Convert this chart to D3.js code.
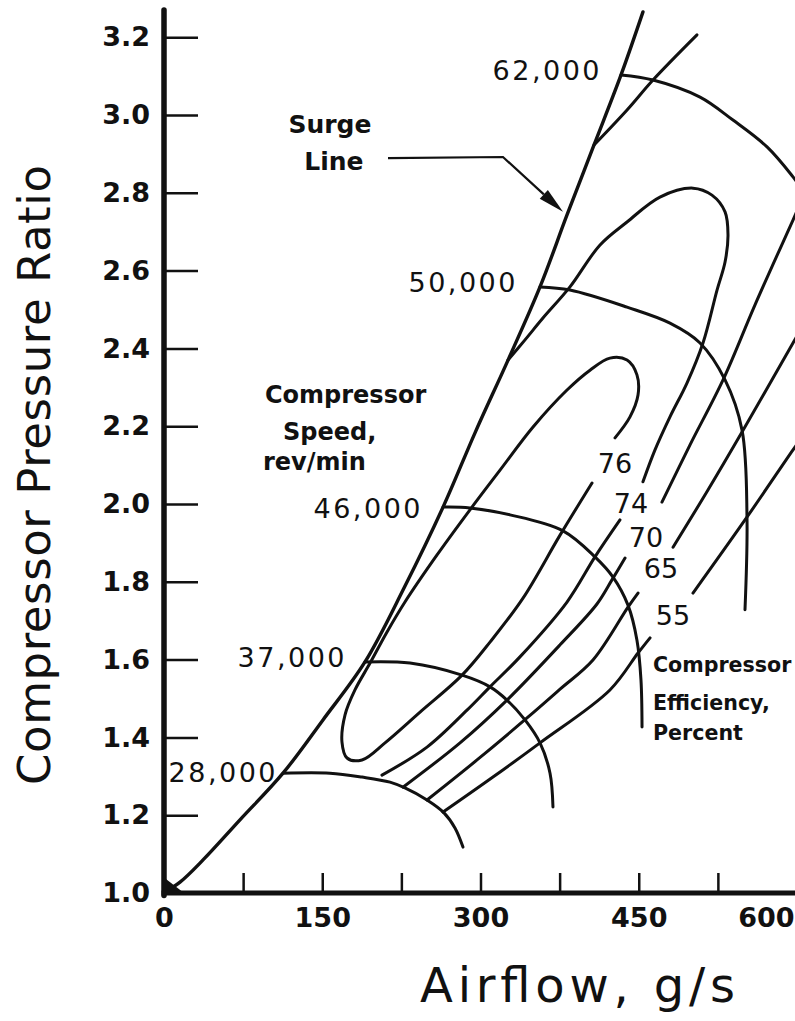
<!DOCTYPE html>
<html>
<head>
<meta charset="utf-8">
<script src="https://cdn.jsdelivr.net/npm/d3@7"></script>
<style>
  body { margin: 0; background: #fff; }
  svg { display: block; }
  text { font-family: "DejaVu Sans", sans-serif; fill: #111; }
</style>
</head>
<body>
<div class="map_chart"></div>
<script>
// Compressor map: pressure ratio vs airflow

const xTicks = [0, 75, 150, 225, 300, 375, 450, 525, 600];
const xLabels = [0, 150, 300, 450, 600];
const yTicks = [1.0, 1.2, 1.4, 1.6, 1.8, 2.0, 2.2, 2.4, 2.6, 2.8, 3.0, 3.2];

// points are [airflow g/s, pressure ratio]
const surgeLine = [[1.9,1.005],[15.2,1.028],[37.0,1.085],[72.0,1.188],[112.8,1.308],[150.7,1.445],
  [190.5,1.594],[227.5,1.784],[264.5,1.992],[294.8,2.183],[326.1,2.370],[356.4,2.558],
  [382.0,2.743],[407.6,2.923],[433.2,3.103],[454.0,3.265]];
const originBlob = [[0,1.0],[19,1.0],[0,1.04]];

const speedNames = ["28,000", "37,000", "46,000", "50,000", "62,000"];
const speed28 = [[112.8,1.308],[157.3,1.308],[187.7,1.298],[214.2,1.285],[228.4,1.270],[249.3,1.239],
  [265.4,1.206],[275.8,1.167],[283.4,1.118]];
const speed37 = [[190.5,1.594],[233.2,1.591],[282.5,1.560],[309.0,1.530],[325.1,1.496],[342.2,1.445],
  [356.4,1.386],[365.9,1.308],[368.7,1.221]];
const speed46 = [[264.5,1.992],[290.0,1.990],[328.0,1.972],[378.2,1.931],[408.5,1.864],[425.6,1.812],
  [439.8,1.740],[448.3,1.650],[452.1,1.548],[453.1,1.427]];
const speed50 = [[356.4,2.558],[384.8,2.550],[438.9,2.506],[479.6,2.465],[508.1,2.414],[531.8,2.319],
  [547.9,2.190],[552.6,1.967],[550.7,1.728]];
const speed62 = [[433.2,3.103],[463.5,3.090],[508.1,3.046],[539.3,2.987],[571.6,2.918],[596.2,2.841],
  [612.3,2.781]];
const speedLines = [speed28, speed37, speed46, speed50, speed62];
// right end / baseline of each speed label
const speedLabelPos = [[108.1,1.285],[173.5,1.581],[245.5,1.964],[335.5,2.545],[415.2,3.090]];

const effNames = ["76", "74", "70", "65", "55"];
const eff76 = [[405.7,2.054],[375.4,1.920],[340.3,1.758],[309.0,1.645],[282.5,1.560],[242.7,1.465],
  [209.5,1.386],[187.7,1.342],[173.5,1.347],[168.7,1.388],[171.6,1.458],[181.0,1.522],[195.3,1.591],
  [211.4,1.671],[228.4,1.748],[258.8,1.869],[290.0,1.985],[318.5,2.087],[349.8,2.198],[382.0,2.293],
  [403.8,2.344],[422.7,2.375],[438.9,2.370],[448.3,2.332],[449.3,2.280],[441.7,2.224],[427.5,2.170]];
const eff74a = [[326.1,2.370],[342.2,2.422],[359.2,2.478],[384.8,2.558],[413.3,2.666],[438.9,2.725],
  [470.1,2.789],[501.4,2.812],[519.4,2.794],[531.8,2.751],[534.6,2.692],[531.8,2.622],[524.2,2.550],
  [510.9,2.414],[495.7,2.311],[479.6,2.224],[465.4,2.139],[454.0,2.057]];
const eff74b = [[432.2,1.959],[408.5,1.864],[382.0,1.748],[337.4,1.607],[309.0,1.530],[287.2,1.470],
  [249.3,1.375],[206.6,1.303]];
const eff70a = [[407.6,2.923],[438.9,3.013],[463.5,3.090],[505.2,3.206]];
const eff70b = [[472.0,2.005],[498.6,2.152],[529.9,2.319],[560.2,2.512],[596.2,2.730],[607.6,2.799]];
const eff70c = [[437.0,1.861],[424.6,1.805],[410.4,1.743],[375.4,1.638],[325.1,1.496],[280.6,1.386],
  [226.5,1.272]];
const eff65a = [[482.5,1.889],[515.6,2.036],[547.9,2.185],[596.2,2.414],[607.6,2.468]];
const eff65b = [[449.3,1.771],[439.8,1.735],[406.6,1.599],[375.4,1.524],[344.1,1.450],[296.7,1.342],
  [249.3,1.239]];
const eff55a = [[501.4,1.771],[550.7,1.959],[596.2,2.139],[607.6,2.183]];
const eff55b = [[460.7,1.656],[449.3,1.617],[422.7,1.522],[356.4,1.386],[311.8,1.298],[264.5,1.208]];
const effLines = [eff76, eff74a, eff74b, eff70a, eff70b, eff70c, eff65a, eff65b, eff55a, eff55b];
// centre / baseline of each efficiency label
const effLabelPos = [[427.5,2.080],[442.7,1.977],[456.9,1.889],[471.1,1.810],[482.5,1.689]];

const surgeNote = ["Surge", "Line"];
const surgeNotePos = [[157.3,2.954],[161.1,2.859]];
const surgeLeader = [[212.3,2.889],[321.3,2.892],[378.2,2.751]];
const speedNote = ["Compressor", "Speed,", "rev/min"];
const speedNotePos = [[95.7,2.260],[112.8,2.165],[93.8,2.087]];
const effNote = ["Compressor", "Efficiency,", "Percent"];
const effNotePos = [[463.5,1.568],[463.5,1.470],[463.5,1.393]];

const ink = "#111";

const svg = d3.select(".map_chart")
              .append("svg")
              .attr("width", 795)
              .attr("height", 1021);

svg.append("rect").attr("width", 795).attr("height", 1021).attr("fill", "#fff");

const xScale = d3.scaleLinear().domain([0, 600]).range([164, 797]);
const yScale = d3.scaleLinear().domain([1.0, 3.2]).range([893, 37.2]);

const line = d3.line()
               .x(d => xScale(d[0]))
               .y(d => yScale(d[1]))
               .curve(d3.curveCatmullRom.alpha(0.5));

// axes
const yAxis = svg.append("g")
                 .attr("transform", "translate(" + xScale(0) + ",0)")
                 .call(d3.axisLeft(yScale)
                         .tickValues(yTicks)
                         .tickSizeInner(-34)
                         .tickSizeOuter(0)
                         .tickPadding(14)
                         .tickFormat(d3.format(".1f")));
yAxis.select(".domain").remove();
yAxis.selectAll(".tick line").attr("stroke", ink).attr("stroke-width", 2.5);
yAxis.selectAll(".tick text")
     .attr("font-family", "DejaVu Sans")
     .attr("font-size", 27)
     .attr("font-weight", "bold")
     .attr("fill", ink);

const xAxis = svg.append("g")
                 .attr("transform", "translate(0," + yScale(1.0) + ")")
                 .call(d3.axisBottom(xScale)
                         .tickValues(xTicks)
                         .tickSizeInner(-20)
                         .tickSizeOuter(0)
                         .tickPadding(15)
                         .tickFormat(d => xLabels.includes(d) ? d : ""));
xAxis.select(".domain").remove();
xAxis.selectAll(".tick line").attr("stroke", ink).attr("stroke-width", 2.5);
xAxis.selectAll(".tick text")
     .attr("font-family", "DejaVu Sans")
     .attr("font-size", 27)
     .attr("font-weight", "bold")
     .attr("fill", ink);
// last label sits on the right edge: keep it inside
xAxis.selectAll(".tick text")
     .filter(d => d === 600)
     .attr("text-anchor", "end")
     .attr("dx", -3);

svg.append("line")
   .attr("x1", xScale(0)).attr("x2", xScale(0))
   .attr("y1", yScale(1.0) + 2.5).attr("y2", yScale(3.27))
   .attr("stroke", ink).attr("stroke-width", 5.5).attr("stroke-linecap", "round");
svg.append("line")
   .attr("x1", xScale(0) - 2.5).attr("x2", xScale(615))
   .attr("y1", yScale(1.0)).attr("y2", yScale(1.0))
   .attr("stroke", ink).attr("stroke-width", 5);

// curves
const curves = svg.append("g")
                  .attr("fill", "none")
                  .attr("stroke", ink)
                  .attr("stroke-linecap", "round")
                  .attr("stroke-linejoin", "round");

curves.append("path").attr("d", line(surgeLine)).attr("stroke-width", 3.4);
svg.append("path")
   .attr("d", d3.line().x(d => xScale(d[0])).y(d => yScale(d[1]))(originBlob) + "Z")
   .attr("fill", ink);

curves.selectAll(".speed")
      .data(speedLines).enter()
      .append("path")
      .attr("class", "speed")
      .attr("d", d => line(d))
      .attr("stroke-width", 3);

curves.selectAll(".eff")
      .data(effLines).enter()
      .append("path")
      .attr("class", "eff")
      .attr("d", d => line(d))
      .attr("stroke-width", 3);

// surge leader and arrow
const leadPx = surgeLeader.map(d => [xScale(d[0]), yScale(d[1])]);
const tip = leadPx[2], back = leadPx[1];
const len = Math.hypot(tip[0] - back[0], tip[1] - back[1]);
const ux = (tip[0] - back[0]) / len, uy = (tip[1] - back[1]) / len;
const base = [tip[0] - 26 * ux, tip[1] - 26 * uy];
svg.append("path")
   .attr("d", d3.line()([leadPx[0], leadPx[1], base]))
   .attr("fill", "none").attr("stroke", ink).attr("stroke-width", 2.2);
svg.append("path")
   .attr("d", d3.line()([tip, [base[0] - 6 * uy, base[1] + 6 * ux], [base[0] + 6 * uy, base[1] - 6 * ux]]) + "Z")
   .attr("fill", ink);

// labels
svg.selectAll(".speedLabel")
   .data(speedNames).enter()
   .append("text")
   .attr("class", "speedLabel")
   .attr("x", (d, i) => xScale(speedLabelPos[i][0]))
   .attr("y", (d, i) => yScale(speedLabelPos[i][1]))
   .attr("text-anchor", "end")
   .attr("font-size", 27)
   .attr("letter-spacing", 2.5)
   .text(d => d);

svg.selectAll(".effLabel")
   .data(effNames).enter()
   .append("text")
   .attr("class", "effLabel")
   .attr("x", (d, i) => xScale(effLabelPos[i][0]))
   .attr("y", (d, i) => yScale(effLabelPos[i][1]))
   .attr("text-anchor", "middle")
   .attr("font-size", 27)
   .text(d => d);

function notes(texts, pos, anchor, size) {
  return texts.map((t, i) =>
    svg.append("text")
       .attr("x", xScale(pos[i][0]))
       .attr("y", yScale(pos[i][1]))
       .attr("text-anchor", anchor)
       .attr("font-size", size)
       .attr("font-weight", "bold")
       .text(t));
}
notes(surgeNote, surgeNotePos, "middle", 25);
notes(speedNote, speedNotePos, "start", 24);

// right-hand note runs up to the picture edge: shrink it to fit
const effTexts = notes(effNote, effNotePos, "start", 24);
const room = 792 - xScale(effNotePos[0][0]);
const widest = d3.max(effTexts, t => t.node().getComputedTextLength());
if (widest > room) {
  const fs = Math.floor(24 * room / widest * 10) / 10;
  effTexts.forEach(t => t.attr("font-size", fs));
}

// axis titles
svg.append("text")
   .attr("transform", "translate(50,475) rotate(-90)")
   .attr("text-anchor", "middle")
   .attr("font-size", 45)
   .attr("textLength", 620)
   .attr("lengthAdjust", "spacing")
   .text("Compressor Pressure Ratio");

svg.append("text")
   .attr("x", 420)
   .attr("y", 1002)
   .attr("font-size", 48)
   .attr("textLength", 315)
   .attr("lengthAdjust", "spacing")
   .text("Airflow, g/s");
</script>
</body>
</html>
